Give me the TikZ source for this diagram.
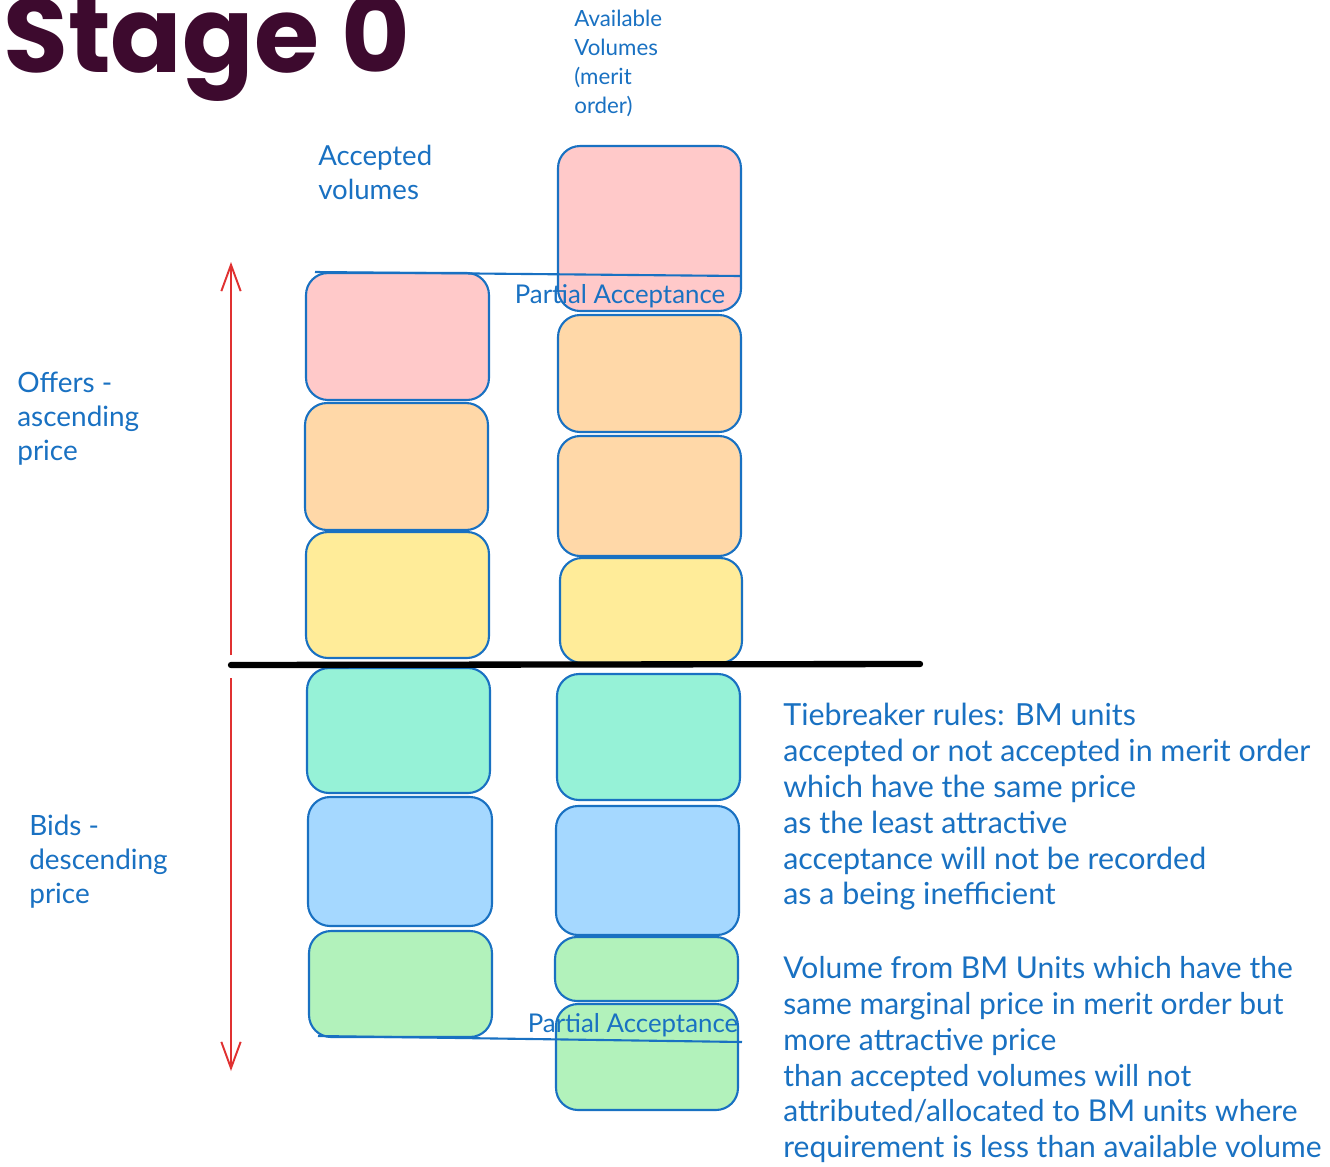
\documentclass[tikz,border=0pt]{standalone}
\usepackage{fontspec}
\setmainfont{Lato}
\newfontfamily\titlefont{Poppins}
\usetikzlibrary{arrows.meta}
\definecolor{inkblue}{HTML}{1971C2}
\definecolor{inkred}{HTML}{E03131}
\definecolor{titlec}{HTML}{3D0A2E}
\definecolor{cpink}{HTML}{FFC9C9}
\definecolor{corange}{HTML}{FFD8A8}
\definecolor{cyellow}{HTML}{FFEC99}
\definecolor{cteal}{HTML}{96F2D7}
\definecolor{cblue}{HTML}{A5D8FF}
\definecolor{cgreen}{HTML}{B2F2BB}
\begin{document}
\begin{tikzpicture}[x=0.02cm,y=-0.02cm,
  box/.style={draw=inkblue, line width=1.2pt, rounded corners=0.44cm, inner sep=0pt, outer sep=0pt, minimum width=3.66cm},
  edge/.style={draw=inkblue, line width=1.2pt},
  divider/.style={draw=black, line width=3.6pt, line cap=round},
  redarrow/.style={draw=inkred, line width=1.1pt, -{Straight Barb[length=15pt,width=11pt]}},
  lbl/.style={text=inkblue, inner sep=0pt, align=left, anchor=north west},
  ]
\useasboundingbox[fill=white] (0,0) rectangle (1330,1167);

% title
\node[anchor=base west, inner sep=0pt, text=titlec, font=\titlefont\bfseries\fontsize{60}{60}\selectfont] (title) at (3,72) {Stage 0};

% left column (accepted volumes)
\node[box, fill=cpink, minimum height=2.54cm] (lpink) at (397.5,336.5) {};
\node[box, fill=corange, minimum height=2.54cm] (lorange) at (396.5,466.5) {};
\node[box, fill=cyellow, minimum height=2.52cm] (lyellow) at (397.5,595) {};
\node[box, fill=cteal, minimum height=2.50cm] (lteal) at (398.5,730.5) {};
\node[box, fill=cblue, minimum height=2.58cm, minimum width=3.68cm] (lblue) at (400,861.5) {};
\node[box, fill=cgreen, minimum height=2.12cm] (lgreen) at (400.5,984) {};

% right column (available volumes)
\node[box, fill=cpink, minimum height=3.30cm] (rpink) at (649.5,228.5) {};
\node[box, fill=corange, minimum height=2.34cm] (rorangea) at (649.5,373.5) {};
\node[box, fill=corange, minimum height=2.40cm] (rorangeb) at (649.5,496) {};
\node[box, fill=cyellow, minimum height=2.10cm, minimum width=3.64cm] (ryellow) at (651,610.5) {};
\node[box, fill=cteal, minimum height=2.52cm] (rteal) at (648.5,737) {};
\node[box, fill=cblue, minimum height=2.58cm] (rblue) at (647.5,870.5) {};
\node[box, fill=cgreen, minimum height=1.28cm] (rgreena) at (646.5,969) {};
\node[box, fill=cgreen, minimum height=2.12cm, minimum width=3.64cm] (rgreenb) at (647,1057) {};

% partial acceptance lines
\coordinate (paTopL) at (315,272);
\coordinate (paTopR) at (740,276);
\coordinate (paBotL) at (318,1036);
\coordinate (paBotR) at (742,1042);
\draw[edge] (paTopL) -- (paTopR);
\draw[edge] (paBotL) -- (paBotR);

% divider
\coordinate (divL) at (231,665);
\coordinate (divR) at (920,664);
\draw[divider] (divL) -- (divR);

% red arrows
\coordinate (offA) at (231,655);
\coordinate (offB) at (231,262);
\coordinate (bidA) at (231,678);
\coordinate (bidB) at (231,1071);
\draw[redarrow] (offA) -- (offB);
\draw[redarrow] (bidA) -- (bidB);

% labels
\node[lbl, font=\fontsize{12.7}{16.4}\selectfont] (avail) at (574,10) {Available\\Volumes\\(merit\\order)};
\node[lbl, font=\fontsize{15.7}{19.3}\selectfont] (acc) at (318,145) {Accepted\\volumes};
\node[lbl, font=\fontsize{15.9}{19.3}\selectfont] (offers) at (17,372) {Offers -\\ascending\\price};
\node[lbl, font=\fontsize{15.9}{19.3}\selectfont] (bids) at (29,815) {Bids -\\descending\\price};
\node[text=inkblue, inner sep=0pt, font=\fontsize{14.7}{17}\selectfont] (patop) at (620,296) {Partial Acceptance};
\node[text=inkblue, inner sep=0pt, font=\fontsize{14.7}{17}\selectfont] (pabot) at (633,1025) {Partial Acceptance};
\node[lbl, font=\fontsize{17.3}{20.4}\selectfont] (tie) at (783,703) {Tiebreaker rules: BM units\\accepted or not accepted in merit order\\which have the same price\\as the least attractive\\acceptance will not be recorded\\as a being inefficient};
\node[lbl, font=\fontsize{17.1}{20.4}\selectfont] (vol) at (783,956) {Volume from BM Units which have the\\same marginal price in merit order but\\more attractive price\\than accepted volumes will not\\attributed/allocated to BM units where\\requirement is less than available volume};
\end{tikzpicture}
\end{document}
